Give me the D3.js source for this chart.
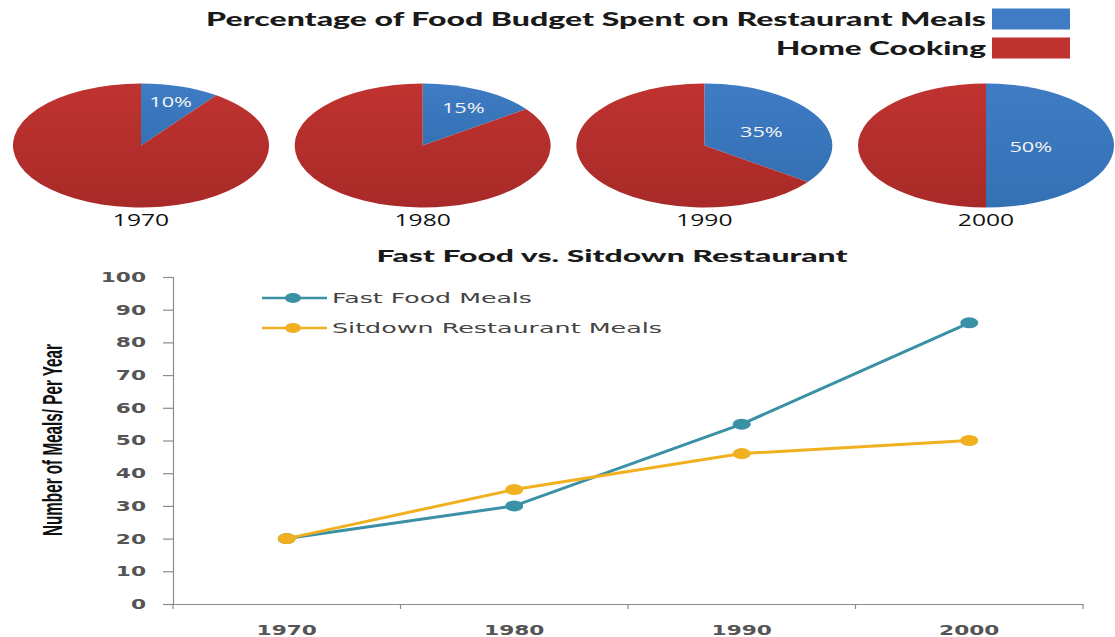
<!DOCTYPE html>
<html><head><meta charset="utf-8">
<script src="https://cdn.jsdelivr.net/npm/d3@7"></script>
<style>html,body{margin:0;padding:0;background:#fff;}</style>
</head><body>
<svg id="chart" width="1115" height="637"></svg>
<script>
// ---- data ----
const pieYears = ["1970", "1980", "1990", "2000"];
const restaurantPct = [10, 15, 35, 50];
const homePct = [90, 85, 65, 50];
const pieLegend = ["Percentage of Food Budget Spent on  Restaurant Meals", "Home Cooking"];

const lineYears = ["1970", "1980", "1990", "2000"];
const fastFood = [20, 30, 55, 86];
const sitdown = [20, 35, 46, 50];
const seriesNames = ["Fast Food Meals", "Sitdown Restaurant  Meals"];
const yTicks = [0, 10, 20, 30, 40, 50, 60, 70, 80, 90, 100];
const lineTitle = "Fast Food vs. Sitdown Restaurant";
const yTitle = "Number of Meals/ Per Year";

// ---- styles ----
const BLUE = "#3f7cc4", RED = "#bf3330";
const TEAL = "#3a90a4", GOLD = "#f0b020";
const SX = 1.62; // horizontal stretch of the picture

const svg = d3.select("#chart");

function stretchedText(g, x, y, txt, opts) {
  const t = g.append("text")
    .attr("transform", `translate(${x},${y}) scale(${opts.sx || SX},1)`)
    .attr("text-anchor", opts.anchor || "start")
    .attr("font-family", opts.family || "Lato, 'Open Sans', sans-serif")
    .attr("font-size", opts.size || 15)
    .attr("font-weight", opts.weight || "normal")
    .attr("fill", opts.fill || "#222")
    .attr("dominant-baseline", "central")
    .text(txt);
  if (opts.width) {
    t.attr("textLength", opts.width / (opts.sx || SX)).attr("lengthAdjust", "spacingAndGlyphs");
  }
  return t;
}

// ---- pie legend ----
const legG = svg.append("g");
const legY = d3.scalePoint().domain(pieLegend).range([19, 48]);
const legColor = d3.scaleOrdinal().domain(pieLegend).range([BLUE, RED]);
pieLegend.forEach((name, i) => {
  legG.append("rect").attr("x", 992).attr("y", legY(name) - 10.5)
    .attr("width", 78).attr("height", 21).attr("fill", legColor(name));
  stretchedText(legG, 986, legY(name), name.replace("  ", " "), {
    anchor: "end", size: 18, weight: "900", fill: "#1a1a1a", sx: 1.5,
    width: i === 0 ? 780 : 210
  });
});

// ---- pies ----
const pieX = d3.scalePoint().domain(pieYears).range([141, 986]);
const RX = 128, RY = 62, PIE_CY = 145.5;
const pie = d3.pie().sort(null).value(d => d.v);
const arc = d3.arc().innerRadius(0).outerRadius(RX);

const defs = svg.append("defs");
[["gBlue", BLUE, "#3470b4"], ["gRed", RED, "#a82a28"]].forEach(([id, c1, c2]) => {
  const lg = defs.append("linearGradient").attr("id", id)
    .attr("x1", 0).attr("y1", 0).attr("x2", 0).attr("y2", 1);
  lg.append("stop").attr("offset", "0%").attr("stop-color", c1);
  lg.append("stop").attr("offset", "100%").attr("stop-color", c2);
});

pieYears.forEach((yr, i) => {
  const data = [{k: "r", v: restaurantPct[i]}, {k: "h", v: homePct[i]}];
  const g = svg.append("g").attr("transform", `translate(${pieX(yr)},${PIE_CY}) scale(1,${RY / RX})`);
  const arcs = pie(data);
  g.selectAll("path").data(arcs).enter().append("path")
    .attr("d", arc)
    .attr("fill", d => d.data.k === "r" ? "url(#gBlue)" : "url(#gRed)");
  // label placement: smaller slices get labels further out (best-fit like)
  const a0 = arcs[0];
  const mid = (a0.startAngle + a0.endAngle) / 2;
  const lr = RX * (0.85 - a0.data.v / 100);
  const lx = Math.sin(mid) * lr, ly = -Math.cos(mid) * lr * RY / RX;
  stretchedText(svg, pieX(yr) + lx, PIE_CY + ly, restaurantPct[i] + "%", {
    anchor: "middle", size: 15, fill: "#f4f4f4", sx: 1.45,
    family: "'Open Sans', Lato, sans-serif"
  });
  stretchedText(svg, pieX(yr), 219, yr, {
    anchor: "middle", size: 17, fill: "#111", sx: 1.45,
    family: "'Open Sans', Lato, sans-serif"
  });
});

// ---- line chart ----
const x = d3.scaleBand().domain(lineYears).range([173, 1083]);
const y = d3.scaleLinear().domain([0, 100]).range([604, 277]);

stretchedText(svg, 612, 256, lineTitle, {anchor: "middle", size: 16, weight: "900", fill: "#1a1a1a", sx: 1.5, width: 471});

// y axis
const yAxisG = svg.append("g").attr("transform", "translate(173,0)")
  .call(d3.axisLeft(y).tickValues(yTicks).tickSize(10).tickFormat(d => ""));
yAxisG.select(".domain").attr("stroke", "#8c8c8c").attr("stroke-width", 1.2);
yAxisG.selectAll(".tick line").attr("stroke", "#8c8c8c").attr("stroke-width", 1.2);
yTicks.forEach(v => {
  stretchedText(svg, 146, y(v), String(v), {
    anchor: "end", size: 14, weight: "bold", fill: "#555",
    family: "'DejaVu Sans', Verdana, sans-serif", sx: 1.55
  });
});

// x axis
const xAxisG = svg.append("g").attr("transform", "translate(0,604)")
  .call(d3.axisBottom(x).tickSize(0).tickFormat(d => ""));
xAxisG.select(".domain").attr("stroke", "#8c8c8c").attr("stroke-width", 1.2);
const bounds = x.domain().map(d => x(d)).concat([x.range()[1]]);
svg.append("g").selectAll("line").data(bounds).enter().append("line")
  .attr("x1", d => d).attr("x2", d => d).attr("y1", 604).attr("y2", 609)
  .attr("stroke", "#8c8c8c").attr("stroke-width", 1.2);
lineYears.forEach(yr => {
  stretchedText(svg, x(yr) + x.bandwidth() / 2, 630, yr, {
    anchor: "middle", size: 14, weight: "bold", fill: "#555",
    family: "'DejaVu Sans', Verdana, sans-serif", sx: 1.55
  });
});

// y title (rotated, stretched across glyph height)
svg.append("text")
  .attr("transform", "translate(53,440) scale(1.5,1) rotate(-90)")
  .attr("text-anchor", "middle").attr("dominant-baseline", "central")
  .attr("font-family", "'Liberation Sans Narrow', 'Liberation Sans', sans-serif")
  .attr("font-weight", "bold").attr("font-size", 18).attr("fill", "#111")
  .attr("textLength", 192).attr("lengthAdjust", "spacingAndGlyphs")
  .text(yTitle);

// lines
const cx = d => x(d) + x.bandwidth() / 2;
const line = d3.line().x(d => cx(d.yr)).y(d => y(d.v));
const series = [
  {name: seriesNames[0], color: TEAL, vals: fastFood},
  {name: seriesNames[1], color: GOLD, vals: sitdown}
];
series.forEach(s => {
  const pts = lineYears.map((yr, i) => ({yr, v: s.vals[i]}));
  svg.append("path").datum(pts).attr("d", line)
    .attr("fill", "none").attr("stroke", s.color).attr("stroke-width", 3);
  svg.append("g").selectAll("ellipse").data(pts).enter().append("ellipse")
    .attr("cx", d => cx(d.yr)).attr("cy", d => y(d.v))
    .attr("rx", 9).attr("ry", 5.5).attr("fill", s.color);
});

// legend
const lgY = d3.scalePoint().domain(seriesNames).range([298, 328]);
series.forEach((s, i) => {
  const yy = lgY(s.name);
  svg.append("line").attr("x1", 262).attr("x2", 327).attr("y1", yy).attr("y2", yy)
    .attr("stroke", s.color).attr("stroke-width", 2.5);
  svg.append("ellipse").attr("cx", 293).attr("cy", yy).attr("rx", 8).attr("ry", 5).attr("fill", s.color);
  stretchedText(svg, 332, yy, s.name.replace("  ", " "), {
    size: 14, fill: "#444", family: "'DejaVu Sans', Verdana, sans-serif",
    width: i === 0 ? 200 : 330
  });
});
</script>
</body></html>
